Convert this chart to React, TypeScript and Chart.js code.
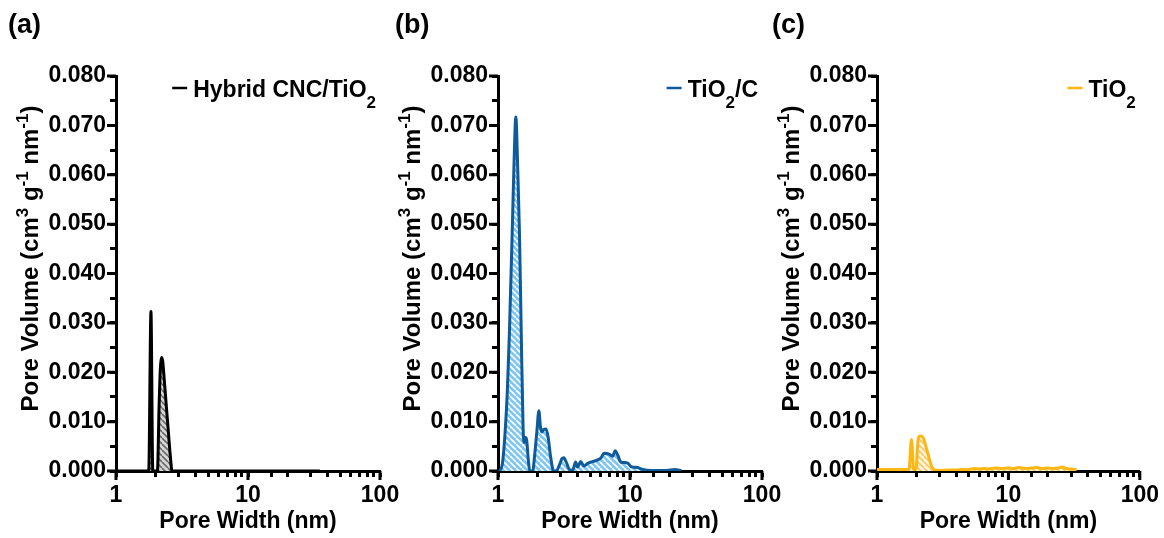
import React, { useEffect, useRef } from 'react';
import { Chart, registerables } from 'chart.js';

Chart.register(...registerables);

const FONT = "'Liberation Sans', Arial, Helvetica, sans-serif";

// ---- Data (pore width in nm, pore volume in cm3 g-1 nm-1) ----
const X_HYBRID = [1, 1.5, 1.77, 1.84, 1.9, 2.0, 2.06, 2.12, 2.17, 2.21, 2.26, 2.32, 2.4, 2.5, 2.58, 2.66, 3, 5, 10, 20, 35];
const Y_HYBRID = [0, 0, 0, 0.0323, 0, 0, 0, 0.013, 0.021, 0.023, 0.0222, 0.0185, 0.0135, 0.0075, 0.003, 0, 0, 0, 0, 0, 0];

const X_TIO2C = [1.03, 1.08, 1.13, 1.18, 1.22, 1.28, 1.32, 1.365, 1.41, 1.455, 1.5, 1.55, 1.58, 1.62, 1.65, 1.7, 1.74, 1.83, 1.9, 1.97, 2.04, 2.1, 2.15, 2.22, 2.31, 2.4, 2.5, 2.64, 2.8, 2.95, 3.05, 3.15, 3.3, 3.5, 3.7, 3.87, 4.0, 4.23, 4.48, 4.75, 5.04, 5.5, 6.0, 6.37, 6.95, 7.38, 7.73, 8.05, 8.54, 9.05, 9.6, 10.2, 11.4, 12.5, 14.5, 16.3, 19, 21.8, 24.5];
const Y_TIO2C = [0, 0.0015, 0.0075, 0.017, 0.028, 0.048, 0.0615, 0.0717, 0.0615, 0.048, 0.028, 0.0085, 0.0058, 0.0068, 0.0062, 0.002, 0, 0, 0.0035, 0.008, 0.0122, 0.0088, 0.0079, 0.0084, 0.0085, 0.0068, 0.003, 0, 0.0002, 0.0015, 0.0025, 0.0027, 0.0017, 0.0002, 0.0003, 0.0018, 0.0008, 0.0019, 0.001, 0.0015, 0.0018, 0.0021, 0.0026, 0.0036, 0.0034, 0.003, 0.0041, 0.0033, 0.0018, 0.0017, 0.0016, 0.0009, 0.0007, 0.0003, 0.0001, 0.0001, 0.0001, 0.0003, 0.0001];

const X_TIO2 = [1, 1.4, 1.75, 1.83, 1.9, 1.98, 2.04, 2.09, 2.16, 2.23, 2.3, 2.4, 2.5, 2.6, 2.74, 3, 3.5, 4, 4.5, 5, 5.5, 6, 6.5, 7, 8, 9, 10, 11, 12, 13.5, 15, 16.5, 18, 20, 22, 24, 25.5, 27.5, 30, 33];
const Y_TIO2 = [0.0003, 0.0003, 0.0003, 0.0064, 0.0003, 0.0003, 0.0055, 0.007, 0.0071, 0.0068, 0.006, 0.0042, 0.0025, 0.001, 0.0002, 0.0001, 0.0002, 0.0002, 0.0003, 0.0003, 0.0005, 0.0004, 0.0005, 0.0004, 0.0006, 0.0005, 0.0006, 0.0005, 0.0007, 0.0005, 0.0006, 0.0007, 0.0005, 0.0006, 0.0005, 0.0006, 0.0008, 0.0005, 0.0004, 0.0003];

const X_MIN = 1;
const X_MAX = 100;
const Y_MIN = 0;
const Y_MAX = 0.08;
const Y_STEP = 0.005;
const Y_MAJOR_STEP = 0.01;
const X_LABELED = [1, 10, 100];

const X_TITLE = 'Pore Width (nm)';
// [text, isSuperscript]
const Y_TITLE: [string, boolean][] = [
  ['Pore Volume (cm', false], ['3', true], [' g', false], ['-1', true], [' nm', false], ['-1', true], [')', false],
];

const PANELS = [
  {
    label: '(a)', labelX: 8, left: 116, right: 380,
    xs: X_HYBRID, ys: Y_HYBRID, color: '#000000',
    hatchBg: '#d6d6d6', hatchFg: '#6a6a6a',
    legend: [['Hybrid CNC/TiO', false], ['2', true]] as [string, boolean][],
  },
  {
    label: '(b)', labelX: 395, left: 498, right: 762,
    xs: X_TIO2C, ys: Y_TIO2C, color: '#0E5A9A',
    hatchBg: '#7EC6F0', hatchFg: '#ffffff',
    legend: [['TiO', false], ['2', true], ['/C', false]] as [string, boolean][],
  },
  {
    label: '(c)', labelX: 772, left: 877, right: 1142,
    xs: X_TIO2, ys: Y_TIO2, color: '#FDB714',
    hatchBg: '#FFF4DC', hatchFg: '#F7C765',
    legend: [['TiO', false], ['2', true]] as [string, boolean][],
  },
];

const W = 1164;
const H = 538;
const TOP = 76;
const BOTTOM = 471;
const Y_AXIS_W = 80;

function makeHatch(ctx: CanvasRenderingContext2D, bg: string, fg: string) {
  const size = 6;
  const c = document.createElement('canvas');
  c.width = size;
  c.height = size;
  const x = c.getContext('2d')!;
  x.fillStyle = bg;
  x.fillRect(0, 0, size, size);
  x.strokeStyle = fg;
  x.lineWidth = 1.6;
  x.beginPath();
  for (const k of [-size, 0, size]) {
    x.moveTo(k, 0);
    x.lineTo(k + size, size);
  }
  x.stroke();
  return ctx.createPattern(c, 'repeat');
}

function makeDecor(cfg: any) {
  return {
    id: 'decor',
    afterDraw(chart: any) {
      const { ctx, chartArea: ca } = chart;
      const main = `bold 23px ${FONT}`;
      const titleFont = `bold 24px ${FONT}`;
      const sup = `bold 17px ${FONT}`;
      const sub = `bold 17px ${FONT}`;
      const xs = chart.scales.x;
      const ys = chart.scales.y;
      // longer major tick marks
      ctx.save();
      ctx.strokeStyle = '#000';
      ctx.lineWidth = 3;
      ctx.beginPath();
      for (let v = Y_MIN; v <= Y_MAX + 1e-9; v += Y_MAJOR_STEP) {
        const py = ys.getPixelForValue(v);
        ctx.moveTo(ca.left, py);
        ctx.lineTo(ca.left - 9, py);
      }
      for (const v of X_LABELED) {
        const px = xs.getPixelForValue(v);
        ctx.moveTo(px, ca.bottom);
        ctx.lineTo(px, ca.bottom + 9);
      }
      ctx.stroke();
      ctx.restore();
      // panel label
      ctx.save();
      ctx.fillStyle = '#000';
      ctx.font = `bold 27px ${FONT}`;
      ctx.textAlign = 'left';
      ctx.textBaseline = 'middle';
      ctx.fillText(cfg.label, cfg.labelX, 26);
      // y title with superscripts
      let total = 0;
      for (const [t, s] of Y_TITLE) {
        ctx.font = s ? sup : titleFont;
        total += ctx.measureText(t).width;
      }
      ctx.translate(ca.left - 85, (ca.top + ca.bottom) / 2 - 15);
      ctx.rotate(-Math.PI / 2);
      let x = -total / 2;
      for (const [t, s] of Y_TITLE) {
        ctx.font = s ? sup : titleFont;
        ctx.fillText(t, x, s ? -8 : 0);
        x += ctx.measureText(t).width;
      }
      ctx.restore();
      // legend
      ctx.save();
      ctx.fillStyle = '#000';
      ctx.textAlign = 'left';
      ctx.textBaseline = 'alphabetic';
      let w = 0;
      for (const [t, s] of cfg.legend) {
        ctx.font = s ? sub : main;
        w += ctx.measureText(t).width;
      }
      const tx = ca.right - 4 - w;
      ctx.strokeStyle = cfg.color;
      ctx.lineWidth = 2.5;
      ctx.beginPath();
      ctx.moveTo(tx - 21, 88);
      ctx.lineTo(tx - 6, 88);
      ctx.stroke();
      let xx = tx;
      for (const [t, s] of cfg.legend) {
        ctx.font = s ? sub : main;
        ctx.fillText(t, xx, s ? 108 : 96.5);
        xx += ctx.measureText(t).width;
      }
      ctx.restore();
    },
  };
}

function Panel({ cfg }: { cfg: any }) {
  const ref = useRef<HTMLCanvasElement>(null);
  useEffect(() => {
    const canvas = ref.current!;
    const ctx = canvas.getContext('2d')!;
    const fill = makeHatch(ctx, cfg.hatchBg, cfg.hatchFg);
    const tickFont = { family: FONT, size: 23, weight: 'bold' as const };
    const chart = new Chart(canvas, {
      type: 'line',
      data: {
        datasets: [
          {
            data: cfg.xs.map((x: number, i: number) => ({ x, y: cfg.ys[i] })),
            borderColor: cfg.color,
            borderWidth: 3,
            backgroundColor: fill as any,
            fill: 'origin',
            pointRadius: 0,
            cubicInterpolationMode: 'monotone',
          },
        ],
      },
      options: {
        responsive: false,
        animation: false,
        devicePixelRatio: 1,
        events: [],
        layout: { padding: { left: cfg.left - Y_AXIS_W, right: W - cfg.right, top: TOP, bottom: 0 } },
        plugins: { legend: { display: false }, tooltip: { enabled: false } },
        scales: {
          x: {
            type: 'logarithmic',
            min: X_MIN,
            max: X_MAX,
            afterFit: (s: any) => { s.height = H - BOTTOM; },
            border: { display: true, color: '#000', width: 3 },
            grid: { drawOnChartArea: false, drawTicks: true, tickLength: 6, tickWidth: 3, tickColor: '#000' },
            ticks: {
              autoSkip: false, maxRotation: 0, minRotation: 0, padding: 5,
              color: '#000', font: tickFont,
              callback: (v: any) => {
                const n = Number(v);
                return X_LABELED.some((l) => Math.abs(l - n) < 1e-9) ? String(Math.round(n)) : '';
              },
            },
            title: { display: true, text: X_TITLE, color: '#000', font: tickFont, padding: { top: 0, bottom: 3 } },
          },
          y: {
            type: 'linear',
            min: Y_MIN,
            max: Y_MAX,
            afterFit: (s: any) => { s.width = Y_AXIS_W; },
            border: { display: true, color: '#000', width: 3 },
            grid: { drawOnChartArea: false, drawTicks: true, tickLength: 6, tickWidth: 3, tickColor: '#000' },
            ticks: {
              stepSize: Y_STEP, autoSkip: false, padding: 4,
              color: '#000', font: tickFont,
              callback: (v: any) => {
                const n = Math.round(Number(v) * 1000);
                return n % 10 === 0 ? (n / 1000).toFixed(3) : '';
              },
            },
          },
        },
      },
      plugins: [makeDecor(cfg)],
    } as any);
    return () => chart.destroy();
  }, [cfg]);
  return (
    <canvas
      ref={ref}
      width={W}
      height={H}
      style={{ position: 'absolute', left: 0, top: 0, width: W, height: H }}
    />
  );
}

export default function App() {
  return (
    <div style={{ position: 'fixed', left: 0, top: 0, width: W, height: H, background: '#fff', overflow: 'hidden' }}>
      {PANELS.map((p) => (
        <Panel key={p.label} cfg={p} />
      ))}
    </div>
  );
}
